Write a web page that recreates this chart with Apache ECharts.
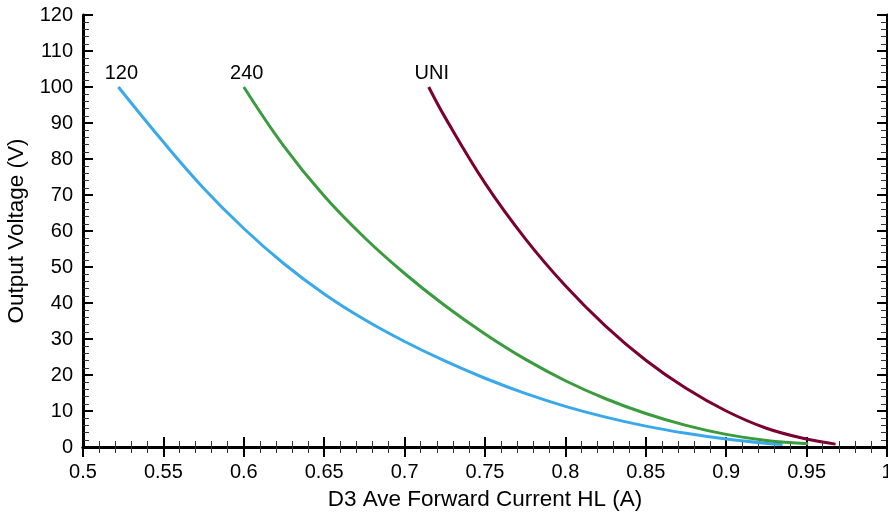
<!DOCTYPE html>
<html>
<head>
<meta charset="utf-8">
<script src="https://cdn.jsdelivr.net/npm/echarts@6/dist/echarts.min.js"></script>
<style>html,body{margin:0;padding:0;background:#fff}#c{width:888px;height:515px}</style>
</head>
<body>
<div id="c"></div>
<script>
var xTicks = [0.5, 0.55, 0.6, 0.65, 0.7, 0.75, 0.8, 0.85, 0.9, 0.95, 1];
var yTicks = [0, 10, 20, 30, 40, 50, 60, 70, 80, 90, 100, 110, 120];
var seriesNames = ['120', '240', 'UNI'];
var curve120 = [[0.522,100],[0.55,84.7],[0.575,71.9],[0.6,60.7],[0.625,50.9],[0.65,42.5],[0.675,35.4],[0.7,29.3],[0.725,23.9],[0.75,19.1],[0.775,14.9],[0.8,11.3],[0.825,8.3],[0.85,5.8],[0.875,3.8],[0.9,2.2],[0.925,1.0],[0.935,0.7]];
var curve240 = [[0.6,100],[0.625,83.5],[0.65,69.7],[0.675,58.2],[0.7,48.2],[0.725,39.3],[0.75,31.4],[0.775,24.4],[0.8,18.4],[0.825,13.4],[0.85,9.3],[0.875,6.0],[0.9,3.5],[0.925,1.8],[0.951,0.9]];
var curveUNI = [[0.715,100],[0.725,91.7],[0.75,73.3],[0.775,57.9],[0.8,44.8],[0.825,33.6],[0.85,24.1],[0.875,16.3],[0.9,10.0],[0.925,5.2],[0.95,2.2],[0.968,0.8]];
var colors = ['#3AA9E9', '#3A9C3E', '#7B0030'];

var FONT = 'Liberation Sans, Arial, sans-serif';
function fmt(v){ return String(+v.toFixed(2)); }
function mkSeries(name, data, color){
  return {
    type: 'line', name: name, xAxisIndex: 0, yAxisIndex: 0,
    smooth: 0.4,
    symbol: 'none', showSymbol: true, showAllSymbol: true,
    lineStyle: {color: color, width: 3},
    itemStyle: {color: color},
    data: data.map(function(p, i){
      if (i === 0) return {value: p, symbol: 'circle', symbolSize: 0.1,
        label: {show: true, position: 'top', distance: 3, offset: [3, 0], formatter: name, color: '#000', fontSize: 20, fontFamily: FONT}};
      return p;
    }),
    z: 3
  };
}
var tickCommon = {show: true, inside: true, length: 10, lineStyle: {color: '#000', width: 2}};
var minorCommon = {show: true, splitNumber: 5, length: 6, lineStyle: {color: '#333', width: 1}};
var axisLineStyle = {show: true, lineStyle: {color: '#000', width: 3}};
var chart = echarts.init(document.getElementById('c'));
chart.setOption({
  animation: false,
  backgroundColor: '#fff',
  grid: {left: 83, right: 1, top: 15, bottom: 68, containLabel: false, outerBoundsMode: 'none'},
  xAxis: [{
    type: 'value', min: xTicks[0], max: xTicks[xTicks.length-1], interval: 0.05, position: 'bottom',
    name: 'D3 Ave Forward Current HL (A)', nameLocation: 'middle', nameGap: 41,
    nameTextStyle: {fontSize: 22.5, color: '#000', fontFamily: FONT},
    axisLine: axisLineStyle,
    axisTick: tickCommon, minorTick: minorCommon,
    axisLabel: {fontSize: 20, color: '#000', margin: 15, fontFamily: FONT, formatter: fmt},
    splitLine: {show: false}
  }, {
    type: 'value', min: xTicks[0], max: xTicks[xTicks.length-1], interval: 0.05, position: 'top',
    axisLine: axisLineStyle,
    axisTick: tickCommon, minorTick: minorCommon,
    axisLabel: {show: false}, splitLine: {show: false}
  }],
  yAxis: [{
    type: 'value', min: yTicks[0], max: yTicks[yTicks.length-1], interval: 10, position: 'left',
    name: 'Output Voltage (V)', nameLocation: 'middle', nameGap: 52,
    nameTextStyle: {fontSize: 22.5, color: '#000', fontFamily: FONT},
    axisLine: axisLineStyle,
    axisTick: tickCommon, minorTick: minorCommon,
    axisLabel: {fontSize: 20, color: '#000', margin: 10, fontFamily: FONT},
    splitLine: {show: false}
  }, {
    type: 'value', min: yTicks[0], max: yTicks[yTicks.length-1], interval: 10, position: 'right',
    axisLine: axisLineStyle,
    axisTick: tickCommon, minorTick: minorCommon,
    axisLabel: {show: false}, splitLine: {show: false}
  }],
  series: [
    mkSeries(seriesNames[0], curve120, colors[0]),
    mkSeries(seriesNames[1], curve240, colors[1]),
    mkSeries(seriesNames[2], curveUNI, colors[2])
  ]
});
</script>
</body>
</html>
